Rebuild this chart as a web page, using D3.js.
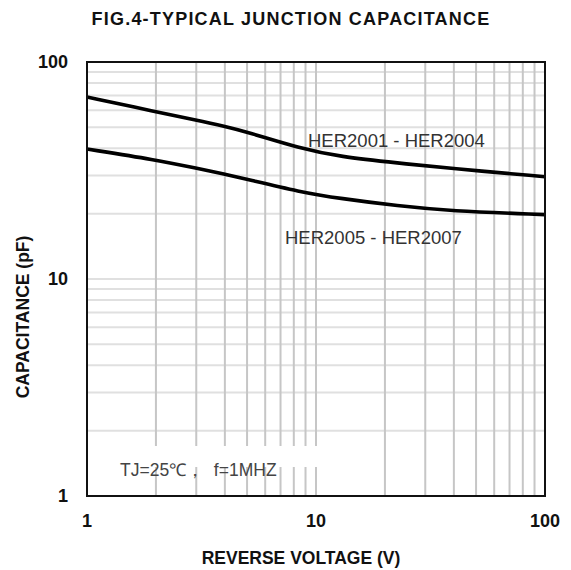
<!DOCTYPE html>
<html>
<head>
<meta charset="utf-8">
<script src="https://cdn.jsdelivr.net/npm/d3@7"></script>
<style>
  body { margin: 0; background: #fff; }
  svg { display: block; }
</style>
</head>
<body>
<div id="chart"></div>
<script>
// values
const voltage = [1, 2, 3, 4, 5, 8.5, 12.7, 23, 38, 100];
const capHer2001 = [69, 59, 54, 50.5, 47.6, 40, 36.6, 34.2, 32.4, 29.6];
const capHer2005 = [39.7, 35.4, 32.4, 30.4, 28.8, 25.2, 23.5, 21.7, 20.6, 19.8];
const xTicks = [1, 10, 100];
const yTicks = [1, 10, 100];
const seriesLabels = ["HER2001 - HER2004", "HER2005 - HER2007"];
const noteText = "TJ=25\u2103\uFF0C  f=1MHZ";

const width = 571, height = 570;
const margin = {top: 62, right: 26, bottom: 74, left: 87};

const svg = d3.select("#chart").append("svg")
    .attr("width", width)
    .attr("height", height);

const x = d3.scaleLog().domain([1, 100]).range([margin.left, width - margin.right]);
const y = d3.scaleLog().domain([1, 100]).range([height - margin.bottom, margin.top]);

// minor grid values 1..9, 10..90 plus 100
const gridVals = [];
for (const dec of [1, 10]) for (let k = 1; k <= 9; k++) gridVals.push(k * dec);
gridVals.push(100);

// horizontal grid (lighter)
svg.append("g")
  .selectAll("line")
  .data(gridVals)
  .join("line")
    .attr("x1", x(1)).attr("x2", x(100))
    .attr("y1", d => y(d)).attr("y2", d => y(d))
    .attr("stroke", "#e0e0e0")
    .attr("stroke-width", 2);

// vertical grid (darker)
svg.append("g")
  .selectAll("line")
  .data(gridVals)
  .join("line")
    .attr("x1", d => x(d)).attr("x2", d => x(d))
    .attr("y1", y(1)).attr("y2", y(100))
    .attr("stroke", "#c6c6c6")
    .attr("stroke-width", 2);

// white patch under the note text
svg.append("rect")
    .attr("x", 110).attr("y", 446)
    .attr("width", 210).attr("height", 21)
    .attr("fill", "#fff");

const line = d3.line()
    .x(d => x(d[0]))
    .y(d => y(d[1]))
    .curve(d3.curveBasis);

[capHer2001, capHer2005].forEach(caps => {
  svg.append("path")
      .datum(voltage.map((v, i) => [v, caps[i]]))
      .attr("d", line)
      .attr("fill", "none")
      .attr("stroke", "#000")
      .attr("stroke-width", 3.6);
});

// frame
svg.append("rect")
    .attr("x", x(1)).attr("y", y(100))
    .attr("width", x(100) - x(1))
    .attr("height", y(1) - y(100))
    .attr("fill", "none")
    .attr("stroke", "#111")
    .attr("stroke-width", 2);

const font = "Liberation Sans, Arial, sans-serif";

// series labels
svg.append("text")
    .attr("x", 308).attr("y", 147)
    .attr("font-family", font)
    .attr("font-size", 18.5)
    .attr("fill", "#333")
    .text(seriesLabels[0]);

svg.append("text")
    .attr("x", 285).attr("y", 244)
    .attr("font-family", font)
    .attr("font-size", 18.5)
    .attr("fill", "#333")
    .text(seriesLabels[1]);

svg.append("text")
    .attr("x", 120).attr("y", 476)
    .attr("font-family", font)
    .attr("font-size", 17.5)
    .attr("fill", "#444")
    .attr("xml:space", "preserve")
    .text(noteText);

// tick labels
svg.append("g")
  .selectAll("text")
  .data(yTicks)
  .join("text")
    .attr("x", 68)
    .attr("y", d => y(d))
    .attr("dy", "0.35em")
    .attr("text-anchor", "end")
    .attr("font-family", font)
    .attr("font-weight", "bold")
    .attr("font-size", 18)
    .attr("fill", "#111")
    .text(d => d);

svg.append("g")
  .selectAll("text")
  .data(xTicks)
  .join("text")
    .attr("x", d => x(d))
    .attr("y", 527)
    .attr("text-anchor", "middle")
    .attr("font-family", font)
    .attr("font-weight", "bold")
    .attr("font-size", 18)
    .attr("fill", "#111")
    .text(d => d);

// titles
svg.append("text")
    .attr("x", 291).attr("y", 25)
    .attr("text-anchor", "middle")
    .attr("font-family", font)
    .attr("font-weight", "bold")
    .attr("font-size", 18)
    .attr("letter-spacing", 1.2)
    .attr("fill", "#111")
    .text("FIG.4-TYPICAL JUNCTION CAPACITANCE");

svg.append("text")
    .attr("x", 301).attr("y", 564)
    .attr("text-anchor", "middle")
    .attr("font-family", font)
    .attr("font-weight", "bold")
    .attr("font-size", 17.5)
    .attr("fill", "#111")
    .text("REVERSE VOLTAGE (V)");

svg.append("text")
    .attr("transform", "translate(29,317) rotate(-90)")
    .attr("text-anchor", "middle")
    .attr("font-family", font)
    .attr("font-weight", "bold")
    .attr("font-size", 17.5)
    .attr("fill", "#111")
    .text("CAPACITANCE (pF)");
</script>
</body>
</html>
